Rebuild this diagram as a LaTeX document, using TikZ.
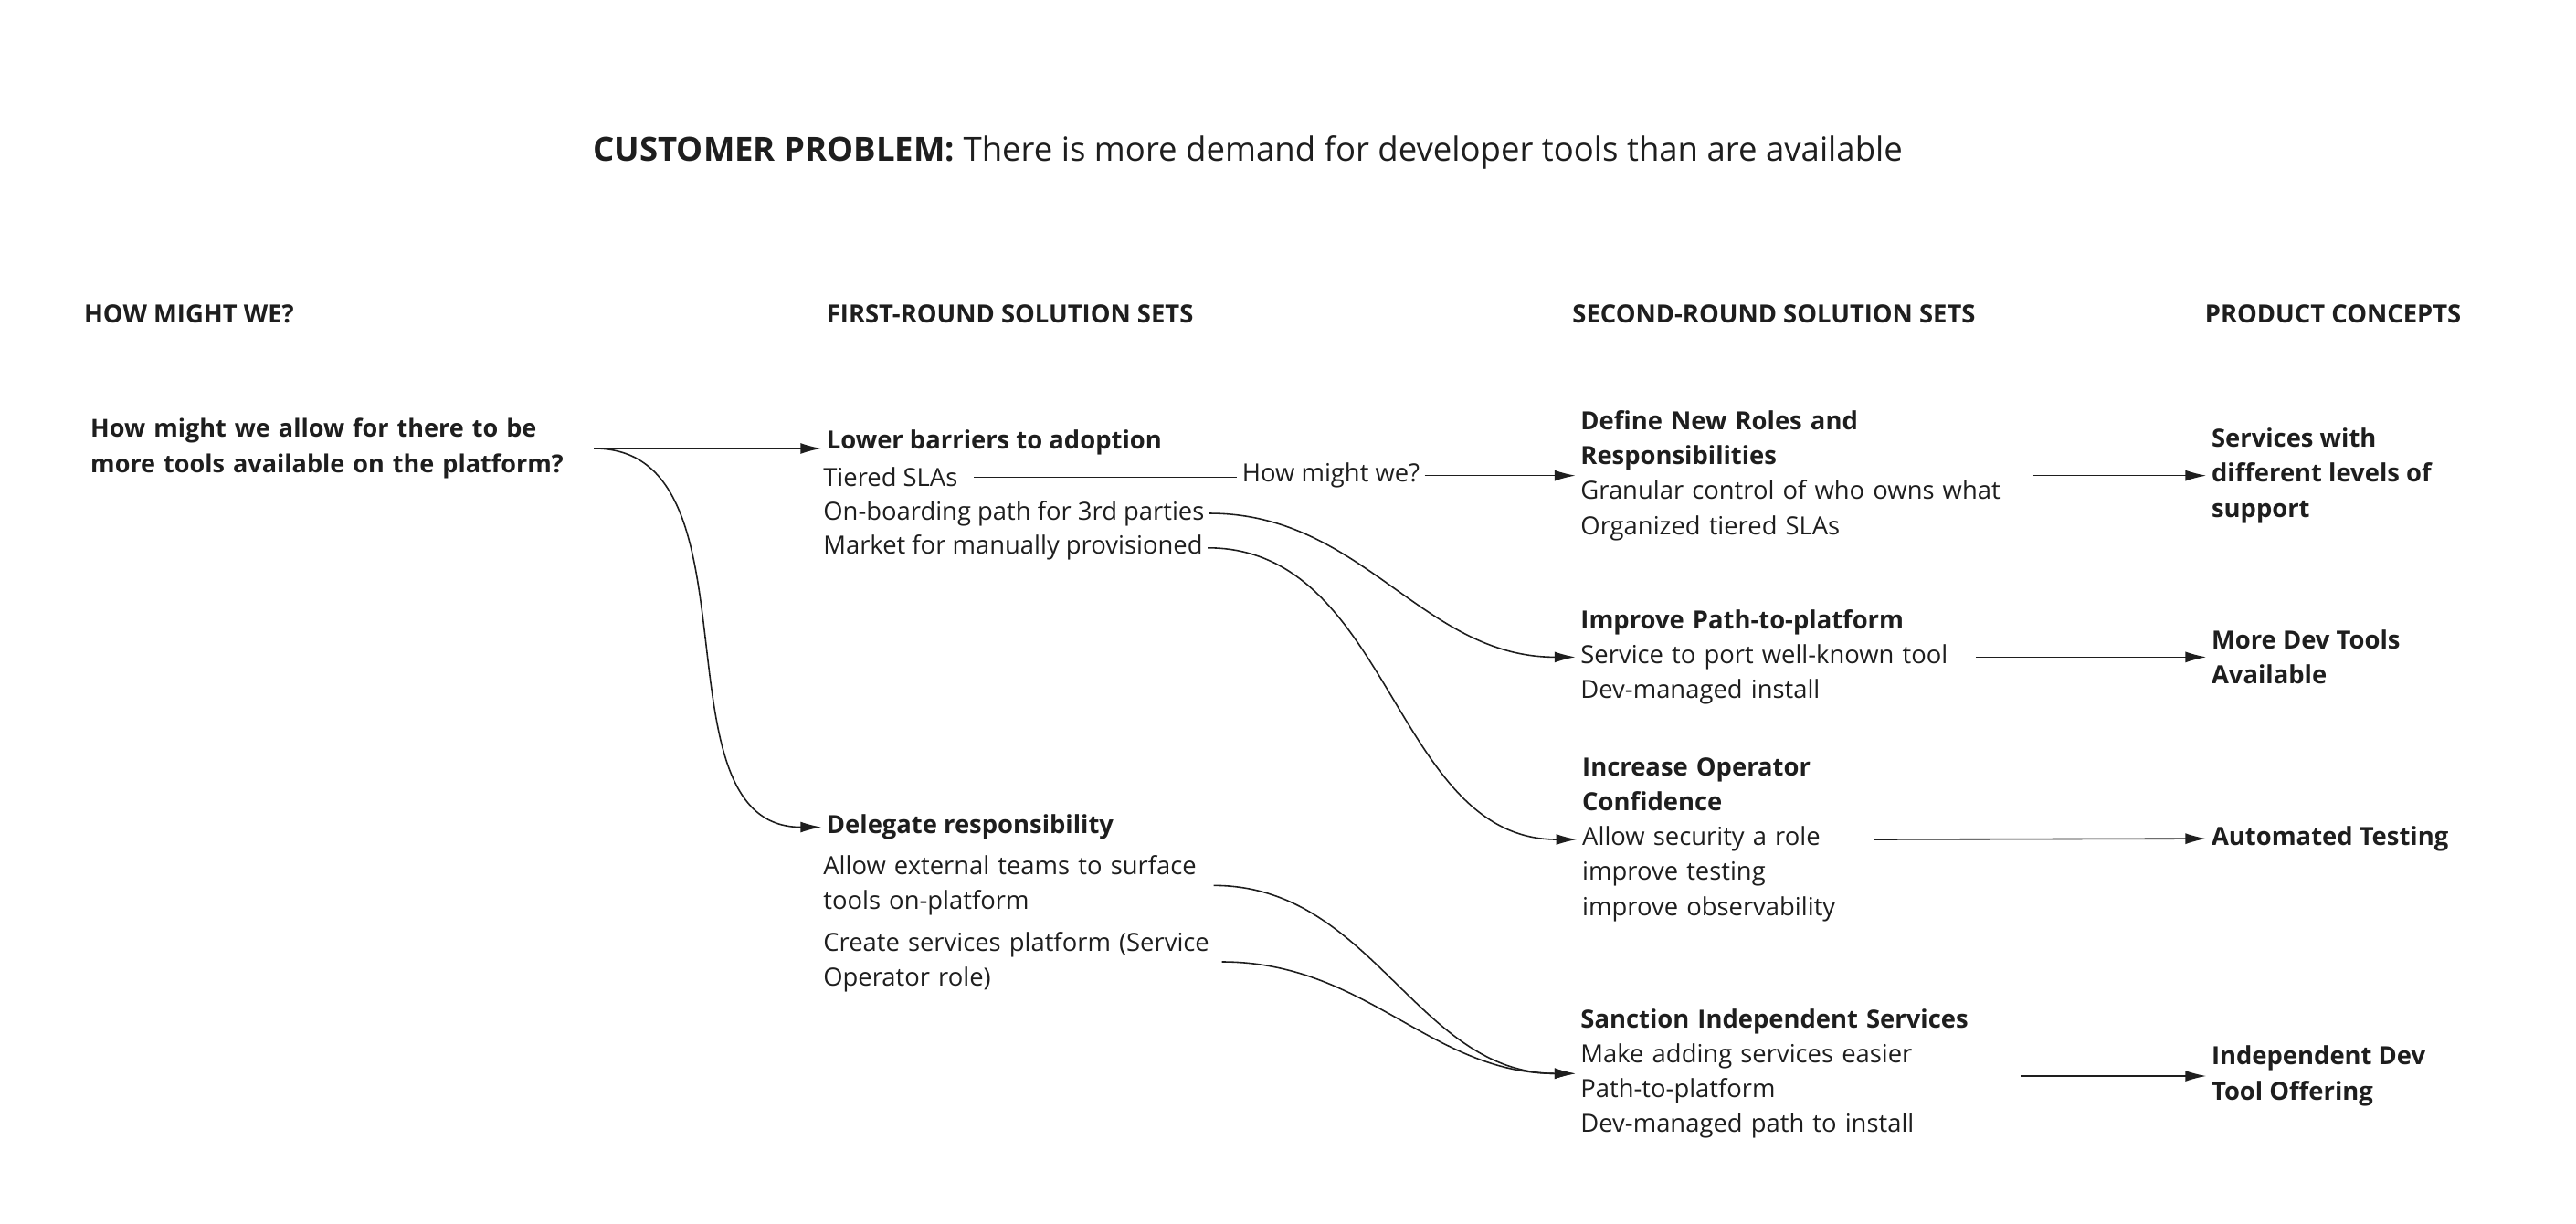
\documentclass[tikz,border=0pt]{standalone}
\usepackage{fontspec}
\setmainfont{Open Sans}
\usetikzlibrary{arrows.meta}
\definecolor{ink}{HTML}{1E1E1E}
\tikzset{
	txt/.style={anchor=west,inner xsep=.5mm,inner ysep=0,text=ink,font=\fontsize{7.8}{10.9}\selectfont},
	hd/.style={txt,font=\fontsize{7.8}{10.9}\selectfont\bfseries},
	grp/.style={txt,align=left,text width=#1},
	arr/.style={draw=ink,line width=.45pt,-{Latex[length=2.3mm,width=1.2mm]}},
	ln/.style={draw=ink,line width=.45pt}
}
\begin{document}
\begin{tikzpicture}[x=.18mm,y=-.18mm]
	\useasboundingbox (0,0) rectangle (1568,745);
	\node[txt,font=\fontsize{10.4}{13}\selectfont] (title) at (358,93) {\textbf{CUSTOMER PROBLEM:} There is more demand for developer tools than are available};
	\node[hd] (h1) at (48,191) {HOW MIGHT WE?};
	\node[hd] (h2) at (500,191) {FIRST-ROUND SOLUTION SETS};
	\node[hd] (h3) at (954,191) {SECOND-ROUND SOLUTION SETS};
	\node[hd] (h4) at (1339,191) {PRODUCT CONCEPTS};
	\node[grp=54.6mm,font=\fontsize{7.7}{10.9}\selectfont\bfseries] (q) at (52,273) {How might we allow for there to be\\more tools available on the platform?};
	\node[hd] (lower) at (500,269.5) {Lower barriers to adoption};
	\node[txt] (tiered) at (498,290.5) {Tiered SLAs};
	\node[txt] (onboard) at (498,312.5) {On-boarding path for 3rd parties};
	\node[txt] (market) at (498,333.5) {Market for manually provisioned};
	\node[txt] (hmw) at (753,289.5) {How might we?};
	\node[hd] (deleg) at (500,503.5) {Delegate responsibility};
	\node[grp=42.2mm] (ext) at (498,539) {Allow external teams to surface\\tools on-platform};
	\node[grp=43.1mm] (create) at (498,585.5) {Create services platform (Service\\Operator role)};
	\node[grp=49mm] (defn) at (959,289.5) {{\bfseries Define New Roles and\\Responsibilities}\\Granular control of who owns what\\Organized tiered SLAs};
	\node[grp=42.7mm] (path) at (959,400) {{\bfseries Improve Path-to-platform}\\Service to port well-known tool\\Dev-managed install};
	\node[grp=31.4mm] (conf) at (960,511) {{\bfseries Increase Operator\\Confidence}\\Allow security a role\\improve testing\\improve observability};
	\node[grp=47.6mm] (sanc) at (959,653.5) {{\bfseries Sanction Independent Services}\\Make adding services easier\\Path-to-platform\\Dev-managed path to install};
	\node[hd,align=left] (svc) at (1343,289.5) {Services with\\different levels of\\support};
	\node[hd,align=left] (more) at (1343,400) {More Dev Tools\\Available};
	\node[hd] (auto) at (1343,510.5) {Automated Testing};
	\node[hd,align=left] (indep) at (1343,655) {Independent Dev\\Tool Offering};
	\draw[arr] (q.east) -- (q.east -| lower.west);
	\draw[arr] (q.east) to[out=0,in=180] (deleg.west);
	\draw[ln,shorten <=1.2mm] (tiered.east) -- (tiered.east -| hmw.west);
	\draw[arr] (hmw.east) -- (defn.west);
	\draw[arr] (onboard.east) to[out=0,in=180] (path.west);
	\draw[arr] (market.east) to[out=0,in=180] (conf.west);
	\draw[arr] (ext.east) to[out=0,in=180] (sanc.west);
	\draw[arr] (create.east) to[out=0,in=180] (sanc.west);
	\draw[arr] (defn.east) -- (svc.west);
	\draw[arr] (path.east) -- (more.west);
	\draw[arr] (conf.east) -- (auto.west);
	\draw[arr] (sanc.east |- indep.west) -- (indep.west);
\end{tikzpicture}
\end{document}
